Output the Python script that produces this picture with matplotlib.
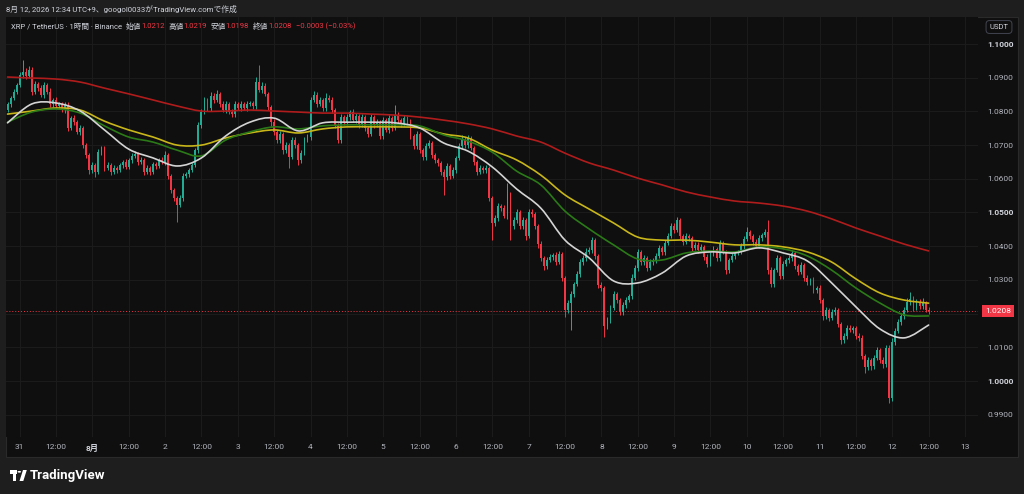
import matplotlib.pyplot as plt
from matplotlib.patches import Rectangle, Polygon, Circle, PathPatch
from matplotlib.path import Path
import numpy as np

plt.rcParams['font.family'] = ['Roboto', 'Noto Sans CJK JP', 'DejaVu Sans']

W, H = 1024, 494


def px(x, y):
    # pixel (from top-left) -> figure fraction
    return x / W, 1 - y / H


# hourly closes, in 1e-4 above 1.0000 (Jul 30 20:00 .. Aug 12 12:00)
close_pips = [
    822, 840, 858, 878, 908, 917, 905, 923, 858, 881,
    869, 849, 878, 858, 822, 834, 816, 822, 804, 819,
    751, 780, 768, 739, 751, 700, 671, 626, 641, 620,
    679, 691, 632, 641, 620, 632, 626, 641, 650, 635,
    656, 668, 674, 650, 656, 620, 632, 620, 644, 638,
    656, 650, 671, 608, 567, 543, 522, 543, 608, 614,
    626, 641, 685, 760, 798, 834, 810, 846, 834, 852,
    822, 804, 822, 798, 792, 822, 810, 822, 810, 822,
    825, 816, 887, 863, 875, 852, 813, 768, 739, 715,
    733, 685, 700, 665, 715, 700, 656, 677, 715, 724,
    834, 849, 822, 834, 810, 840, 834, 804, 760, 715,
    783, 768, 783, 798, 774, 786, 760, 783, 751, 733,
    783, 760, 768, 727, 774, 745, 780, 751, 789, 774,
    763, 780, 768, 727, 697, 733, 685, 665, 697, 706,
    671, 656, 647, 620, 605, 638, 608, 626, 662, 697,
    715, 700, 721, 691, 650, 620, 632, 626, 632, 543,
    469, 484, 519, 513, 490, 555, 460, 478, 501, 460,
    478, 430, 501, 495, 460, 407, 365, 341, 359, 368,
    374, 353, 377, 306, 211, 231, 258, 288, 317, 353,
    365, 383, 389, 418, 371, 285, 276, 163, 181, 217,
    258, 240, 205, 225, 240, 252, 306, 335, 383, 353,
    365, 335, 353, 359, 371, 395, 383, 409, 430, 460,
    448, 478, 430, 412, 430, 424, 395, 404, 389, 398,
    368, 347, 377, 392, 365, 407, 383, 329, 359, 371,
    380, 383, 401, 421, 442, 430, 412, 401, 424, 433,
    442, 329, 288, 329, 365, 312, 347, 359, 365, 380,
    341, 323, 344, 306, 294, 300, 270, 276, 240, 193,
    211, 187, 205, 211, 169, 122, 134, 157, 151, 157,
    134, 128, 74, 42, 62, 45, 68, 92, 62, 50,
    98, -50, 116, 148, 175, 193, 211, 234, 243, 217,
    234, 222, 231, 212, 208,
]
first_open_pips = 804

# wick lengths above / below the body, 1e-4
wick_hi = [
    6, 5, 8, 6, 10, 35, 12, 12, 8, 10,
    7, 9, 8, 6, 10, 5, 8, 7, 6, 9,
    8, 7, 9, 6, 8, 5, 7, 6, 9, 5,
    8, 6, 7, 9, 5, 8, 6, 7, 5, 8,
    6, 8, 7, 5, 9, 6, 8, 5, 7, 6,
    7, 9, 12, 6, 5, 7, 6, 8, 9, 6,
    5, 7, 6, 10, 9, 8, 7, 12, 9, 10,
    7, 9, 8, 6, 8, 10, 7, 9, 6, 8,
    7, 6, 14, 51, 12, 8, 7, 6, 9, 5,
    8, 7, 10, 6, 9, 8, 5, 7, 8, 10,
    9, 12, 8, 10, 7, 14, 9, 8, 6, 7,
    8, 6, 9, 7, 8, 10, 6, 8, 7, 5,
    9, 6, 8, 5, 9, 6, 10, 7, 30, 8,
    7, 9, 6, 8, 5, 8, 6, 5, 9, 8,
    6, 5, 7, 6, 8, 9, 7, 8, 6, 9,
    15, 8, 10, 6, 7, 5, 9, 6, 8, 5,
    7, 8, 9, 6, 8, 32, 7, 10, 8, 6,
    9, 7, 10, 8, 6, 5, 7, 6, 9, 8,
    7, 9, 8, 6, 5, 8, 9, 7, 8, 10,
    8, 12, 9, 10, 6, 7, 8, 6, 9, 8,
    10, 7, 6, 8, 9, 7, 10, 8, 9, 6,
    8, 7, 9, 6, 8, 10, 7, 8, 9, 10,
    8, 9, 7, 6, 8, 7, 6, 9, 7, 8,
    6, 8, 7, 9, 6, 10, 8, 7, 6, 8,
    7, 6, 8, 9, 15, 7, 6, 8, 9, 7,
    10, 36, 8, 7, 9, 6, 8, 7, 9, 8,
    7, 6, 9, 7, 8, 6, 9, 7, 8, 6,
    8, 7, 9, 8, 6, 7, 9, 8, 10, 7,
    6, 8, 7, 6, 9, 7, 8, 10, 6, 8,
    9, 8, 12, 9, 10, 8, 9, 12, 21, 8,
    10, 8, 14, 7, 7,
]
wick_lo = [
    6, 8, 5, 7, 6, 9, 8, 6, 10, 7,
    8, 6, 9, 7, 10, 8, 6, 9, 7, 8,
    9, 6, 8, 7, 10, 8, 9, 12, 8, 14,
    7, 8, 9, 6, 10, 7, 8, 6, 9, 7,
    6, 8, 7, 9, 6, 10, 7, 8, 6, 9,
    7, 6, 8, 9, 10, 8, 50, 7, 8, 6,
    8, 7, 6, 9, 8, 7, 10, 8, 9, 7,
    8, 6, 9, 7, 10, 8, 7, 9, 6, 8,
    7, 9, 8, 6, 9, 7, 8, 10, 9, 8,
    9, 10, 8, 33, 7, 9, 15, 8, 7, 6,
    8, 7, 9, 6, 10, 8, 7, 9, 10, 8,
    9, 7, 8, 10, 6, 8, 9, 7, 10, 8,
    7, 9, 6, 10, 8, 7, 9, 8, 6, 9,
    8, 7, 9, 10, 8, 9, 7, 10, 8, 6,
    9, 8, 10, 9, 53, 8, 10, 7, 9, 6,
    7, 8, 9, 6, 10, 8, 7, 9, 8, 10,
    51, 9, 8, 10, 7, 9, 42, 8, 10, 9,
    8, 12, 7, 9, 10, 11, 9, 12, 8, 7,
    9, 8, 7, 10, 21, 9, 80, 8, 7, 9,
    8, 9, 7, 10, 8, 9, 10, 33, 8, 9,
    7, 9, 10, 8, 9, 7, 8, 6, 9, 8,
    9, 8, 7, 9, 8, 7, 9, 8, 6, 7,
    8, 7, 9, 8, 6, 9, 8, 7, 9, 6,
    8, 9, 7, 6, 9, 8, 7, 12, 8, 7,
    8, 7, 6, 9, 7, 8, 9, 7, 6, 8,
    7, 12, 10, 8, 7, 9, 8, 7, 9, 8,
    8, 9, 7, 10, 8, 9, 10, 8, 9, 11,
    8, 9, 7, 8, 10, 12, 9, 8, 7, 9,
    8, 9, 10, 18, 9, 11, 8, 7, 10, 12,
    8, 15, 9, 8, 7, 8, 9, 7, 8, 9,
    7, 9, 8, 8, 10,
]

# moving averages read every 8 bars
ma_step = 8
ma_fast = [1.0766, 1.0822, 1.0825, 1.0801, 1.0745, 1.0688, 1.0662, 1.0638, 1.0662, 1.0727,
           1.0768, 1.0780, 1.0742, 1.0766, 1.0768, 1.0768, 1.0766, 1.0751, 1.0706, 1.0682,
           1.0635, 1.0570, 1.0513, 1.0418, 1.0365, 1.0297, 1.0291, 1.0320, 1.0371, 1.0383,
           1.0380, 1.0395, 1.0380, 1.0356, 1.0291, 1.0220, 1.0154, 1.0128, 1.0166]
ma_mid = [1.0768, 1.0798, 1.0807, 1.0795, 1.0757, 1.0724, 1.0709, 1.0685, 1.0668, 1.0715,
          1.0739, 1.0754, 1.0748, 1.0757, 1.0760, 1.0760, 1.0760, 1.0757, 1.0730, 1.0712,
          1.0679, 1.0623, 1.0582, 1.0504, 1.0451, 1.0404, 1.0362, 1.0359, 1.0380, 1.0386,
          1.0383, 1.0398, 1.0392, 1.0371, 1.0329, 1.0276, 1.0231, 1.0196, 1.0193]
ma_slow = [1.0792, 1.0801, 1.0810, 1.0804, 1.0771, 1.0745, 1.0724, 1.0700, 1.0700, 1.0721,
           1.0736, 1.0745, 1.0736, 1.0748, 1.0754, 1.0754, 1.0754, 1.0751, 1.0733, 1.0721,
           1.0685, 1.0656, 1.0611, 1.0552, 1.0510, 1.0469, 1.0427, 1.0418, 1.0418, 1.0412,
           1.0404, 1.0404, 1.0398, 1.0383, 1.0353, 1.0303, 1.0261, 1.0240, 1.0231]
ma_long = [1.0902, 1.0899, 1.0896, 1.0887, 1.0869, 1.0852, 1.0834, 1.0816, 1.0801, 1.0801,
           1.0804, 1.0801, 1.0798, 1.0795, 1.0795, 1.0792, 1.0789, 1.0783, 1.0774, 1.0763,
           1.0748, 1.0727, 1.0709, 1.0676, 1.0647, 1.0626, 1.0602, 1.0582, 1.0561, 1.0546,
           1.0534, 1.0528, 1.0519, 1.0504, 1.0481, 1.0454, 1.0430, 1.0406, 1.0386]

day_labels = ['31', '8月', '2', '3', '4', '5', '6', '7', '8', '9', '10', '11', '12', '13']
first_midnight = 4  # bar index of Jul 31 00:00
price_ticks = [0.99, 1.00, 1.01, 1.02, 1.03, 1.04, 1.05, 1.06, 1.07, 1.08, 1.09, 1.10]
last_price = 1.0208

UP = '#22ab94'
DOWN = '#f23645'
BG = '#0f0f0f'
PAGE = '#1e1e1e'
GRID = '#1c1c1c'
TXT = '#b2b5be'

closes = 1 + np.array(close_pips) / 10000
opens = np.r_[1 + first_open_pips / 10000, closes[:-1]]
highs = np.maximum(opens, closes) + np.array(wick_hi) / 10000
lows = np.minimum(opens, closes) - np.array(wick_lo) / 10000
idx = np.arange(len(closes))

fig = plt.figure(figsize=(W / 100, H / 100), dpi=100, facecolor=PAGE)

# chart pane (behind the axes)
x0, y0 = px(6, 457)
x1, y1 = px(1018, 17)
fig.patches.append(Rectangle((x0, y0), x1 - x0, y1 - y0, transform=fig.transFigure,
                             facecolor=BG, edgecolor='#2a2a2a', lw=0.8, zorder=-5))

ax = fig.add_axes([6 / W, 1 - 437 / H, 972 / W, 420 / H])
ax.set_zorder(1)
ax.set_facecolor(BG)
for s in ax.spines.values():
    s.set_visible(False)

ax.set_xlim(-0.5, 320.3)
ax.set_ylim(0.98338, 1.10801)

# grid
xt = [first_midnight + 12 * k for k in range(2 * len(day_labels) - 1)]
xl = []
for k in range(len(xt)):
    xl.append(day_labels[k // 2] if k % 2 == 0 else '12:00')
for v in price_ticks:
    ax.axhline(v, color=GRID, lw=0.7, zorder=0)
for v in xt:
    ax.axvline(v, color=GRID, lw=0.7, zorder=0)

# candles
colors = np.where(closes >= opens, UP, DOWN)
ax.vlines(idx, lows, highs, colors=colors, lw=0.7, zorder=2)
body = np.maximum(np.abs(closes - opens), 0.00012)
ax.bar(idx, body, bottom=np.minimum(opens, closes), width=0.62, color=colors, lw=0, zorder=3)


# moving averages, drawn as smooth curves through the read points
def smooth_line(xs, ys, color, z):
    pts = np.column_stack([xs, ys])
    n = len(pts)
    verts = [pts[0]]
    codes = [Path.MOVETO]
    for i in range(n - 1):
        p0, p1 = pts[max(i - 1, 0)], pts[i]
        p2, p3 = pts[i + 1], pts[min(i + 2, n - 1)]
        verts += [p1 + (p2 - p0) / 6, p2 - (p3 - p1) / 6, p2]
        codes += [Path.CURVE4] * 3
    ax.add_patch(PathPatch(Path(verts, codes), fill=False, edgecolor=color,
                           lw=1.2, zorder=z, capstyle='round', joinstyle='round'))


ma_x = np.arange(len(ma_fast)) * ma_step
smooth_line(ma_x, ma_long, '#b01c1c', 4)
smooth_line(ma_x, ma_slow, '#c8b61a', 4)
smooth_line(ma_x, ma_mid, '#2b7a18', 4)
smooth_line(ma_x, ma_fast, '#d4d4d4', 5)

# last price line
ax.axhline(last_price, color=DOWN, lw=0.7, ls=(0, (1, 2)), zorder=1)

# axes ticks (1.0200 is hidden under the last-price tag, as in TradingView)
ax.set_xticks(xt)
ax.set_xticklabels(xl)
ax.tick_params(axis='x', length=0, pad=5, labelsize=6, colors=TXT)
ax.yaxis.tick_right()
ax.set_yticks(price_ticks)
ax.set_yticklabels(['' if abs(v - last_price) < 0.003 else f'{v:.4f}' for v in price_ticks])
ax.tick_params(axis='y', length=0, pad=7, labelsize=6, colors=TXT)
for t in ax.get_yticklabels():
    if t.get_text() in ('1.1000', '1.0500', '1.0000'):
        t.set_fontweight('bold')
        t.set_color('#d1d4dc')
for t in ax.get_xticklabels():
    if t.get_text() == '8月':
        t.set_fontweight('bold')
        t.set_color('#d1d4dc')

ax.annotate(f'{last_price:.4f}', xy=(1, last_price), xycoords=('axes fraction', 'data'),
            xytext=(5, 0), textcoords='offset points', ha='left', va='center',
            fontsize=6, color='white', annotation_clip=False,
            bbox=dict(boxstyle='square,pad=0.35', fc=DOWN, ec='none'))

fig.text(*px(999, 27), 'USDT', ha='center', va='center', fontsize=5.5, color='#d1d4dc',
         bbox=dict(boxstyle='round,pad=0.45', fc=BG, ec='#434651', lw=0.7), zorder=3)

# header lines
renderer = fig.canvas.get_renderer()


def seq_text(x, y, parts, size):
    for s, c, gap in parts:
        t = fig.text(*px(x, y), s, color=c, fontsize=size, ha='left', va='center', zorder=3)
        x += t.get_window_extent(renderer).width + gap


fig.text(*px(6, 9), '8月 12, 2026 12:34 UTC+9、googol0033がTradingView.comで作成',
         color='#d1d4dc', fontsize=5.6, ha='left', va='center')

LBL = '#d1d4dc'
seq_text(11, 26, [
    ('XRP / TetherUS · 1時間 · Binance', LBL, 4),
    ('始値', LBL, 0), ('1.0212', DOWN, 3.5),
    ('高値', LBL, 0), ('1.0219', DOWN, 3.5),
    ('安値', LBL, 0), ('1.0198', DOWN, 3.5),
    ('終値', LBL, 0), ('1.0208', DOWN, 4.5),
    ('−0.0003 (−0.03%)', DOWN, 0),
], 5.5)


# TradingView logo
def pp(pts):
    return [px(x, y) for x, y in pts]


fig.patches.append(Polygon(pp([(10, 470), (17, 470), (17, 473.5), (15.5, 473.5), (15.5, 481),
                               (12.5, 481), (12.5, 473.5), (10, 473.5)]),
                           closed=True, transform=fig.transFigure, fc='white', ec='none'))
fig.patches.append(Circle(px(19.3, 471.8), 1.8 / W, transform=fig.transFigure, fc='white', ec='none'))
fig.patches.append(Polygon(pp([(19.5, 481), (23, 470), (26.8, 470), (23.3, 481)]),
                           closed=True, transform=fig.transFigure, fc='white', ec='none'))
fig.text(*px(30, 475.5), 'TradingView', color='white', fontsize=9.5, fontweight='bold',
         ha='left', va='center')

fig.savefig('out.png', dpi=100, facecolor=PAGE)
